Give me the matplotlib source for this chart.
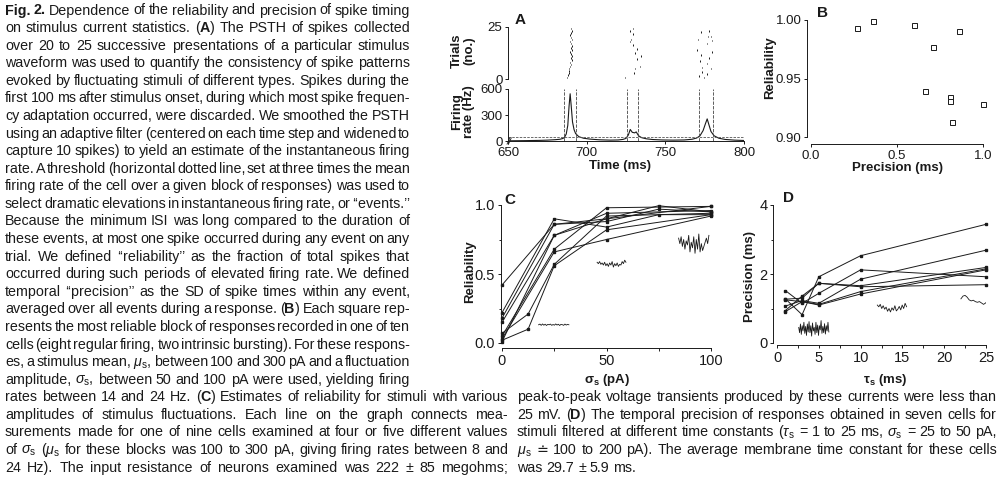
import matplotlib
matplotlib.use('Agg')
import matplotlib.pyplot as plt
import numpy as np

plt.rcParams['font.family'] = ['Liberation Sans', 'DejaVu Sans']
plt.rcParams['mathtext.fontset'] = 'custom'
plt.rcParams['mathtext.rm'] = 'Liberation Sans'
plt.rcParams['mathtext.it'] = 'Liberation Sans:italic'
plt.rcParams['mathtext.bf'] = 'Liberation Sans:bold'
plt.rcParams['axes.linewidth'] = 0.7

# ---------------- data ----------------
# Panel A: raster (spike time in ms, trial number)
raster_time = [687.4, 687.9, 688.6, 689.0, 688.7, 689.6, 690.1, 689.4, 690.6, 689.9, 690.8, 690.1,
               689.5, 690.5, 689.8, 690.9, 690.3, 689.6, 690.7, 690.0, 689.3, 690.3, 690.8, 689.9,
               724.6, 729.8, 733.8, 730.8, 732.2, 734.6, 730.5, 731.8, 729.5, 728.0, 727.3, 729.2,
               727.6, 729.7,
               770.3, 772.4, 773.5, 771.3, 774.5, 772.4, 777.8, 778.8, 779.9, 776.7, 779.4, 777.8,
               776.3, 778.8, 776.7, 773.5, 772.0, 777.3, 771.0]
raster_trial = [0.8, 2, 3, 4, 5, 6, 7, 8, 9, 10, 11, 12,
                13, 14, 15, 16, 17, 18, 19, 20, 21, 22, 23, 24.3,
                0.8, 3, 6, 5, 9.5, 11, 12.5, 14.5, 16.5, 19, 18, 21.5,
                23, 24.3,
                14, 11.5, 5.5, 1.5, 0.8, 22.5, 23, 20.5, 18.5, 17, 13, 10,
                7.5, 5, 2.5, 3.5, 8.5, 20.5, 19]
# Panel A: smoothed PSTH
psth_time = [650, 660, 670, 675, 680, 683, 685, 686, 687, 688, 688.8, 689.5, 690.2, 691, 692, 693,
             695, 698, 702, 708, 715, 720, 723, 725, 726.5, 727.7, 729, 730.5, 731.5, 733, 735,
             738, 742, 748, 755, 762, 767, 770, 772, 774, 775.5, 776.6, 777.5, 779, 781, 784,
             788, 794, 800]
psth_rate = [2, 4, 7, 10, 15, 20, 30, 45, 80, 180, 400, 545, 400, 220, 130, 85,
             50, 32, 22, 14, 10, 12, 18, 30, 70, 133, 100, 94, 105, 60, 38,
             25, 17, 12, 10, 12, 20, 35, 60, 120, 200, 255, 200, 110, 60, 32,
             18, 10, 6]
event_bounds = [685.3, 693.4, 725.8, 732.9, 771.5, 780.3]
threshold_rate = 47

# Panel B
b_precision = [0.27, 0.36, 0.60, 0.86, 0.71, 0.66, 0.81, 0.81, 1.00, 0.82]
b_reliability = [0.9932, 0.999, 0.9957, 0.991, 0.977, 0.939, 0.934, 0.931, 0.928, 0.913]

# Panel C: reliability vs sigma_s, one list per cell
c_sigma = [[0, 25, 50, 75, 100],
           [0, 25, 50, 75, 100],
           [0, 25, 50, 100],
           [0, 25, 50, 100],
           [0, 12.5, 25, 50, 100],
           [0, 12.5, 25, 50, 100],
           [0, 25, 50, 100],
           [0, 25, 50, 75, 100],
           [0, 25, 50, 100]]
c_reliability = [[0.42, 0.86, 0.88, 0.97, 0.95],
                 [0.22, 0.90, 0.84, 0.93, 0.93],
                 [0.18, 0.86, 0.90, 0.99],
                 [0.15, 0.78, 0.94, 0.96],
                 [0.07, 0.21, 0.57, 0.92, 0.94],
                 [0.02, 0.10, 0.56, 0.82, 0.93],
                 [0.05, 0.68, 0.98, 0.99],
                 [0.01, 0.78, 0.90, 0.995, 0.95],
                 [0.03, 0.66, 0.75, 0.92]]
# stimulus snippets drawn inside C (sigma range, trace values)
c_snip1_x = (17.5, 32.0)
c_snip1_y = [0.132, 0.137, 0.128, 0.138, 0.129, 0.136, 0.127, 0.135, 0.132, 0.137, 0.128, 0.134,
             0.129, 0.138, 0.130, 0.136, 0.127, 0.135, 0.133, 0.128, 0.137, 0.130, 0.135, 0.132]
c_snip2_x = (45.5, 59.3)
c_snip2_y = [0.585, 0.575, 0.59, 0.57, 0.58, 0.565, 0.585, 0.56, 0.575, 0.555, 0.58, 0.565,
             0.59, 0.55, 0.575, 0.56, 0.58, 0.555, 0.57, 0.565, 0.59, 0.575, 0.60, 0.585]
c_snip3_x = (84.5, 99.0)
c_snip3_y = [0.76, 0.72, 0.77, 0.70, 0.75, 0.68, 0.74, 0.71, 0.78, 0.66, 0.73, 0.69, 0.77,
             0.65, 0.75, 0.68, 0.79, 0.66, 0.72, 0.67, 0.70, 0.73, 0.76, 0.72, 0.78]

# Panel D: precision vs tau_s
d_tau = [1, 3, 5, 10, 25]
d_precision = [[1.28, 0.82, 1.92, 2.53, 3.44],
               [1.07, 1.23, 1.15, 1.85, 2.69],
               [0.94, 1.36, 1.73, 1.66, 2.19],
               [1.25, 1.20, 1.12, 1.49, 2.15],
               [1.52, 1.15, 1.44, 2.12, 1.92],
               [0.91, 1.20, 1.10, 1.42, 2.12],
               [1.27, 1.30, 1.73, 1.63, 1.69]]
d_snip1_x = (2.6, 6.2)
d_snip1_y = [0.45, 0.30, 0.55, 0.25, 0.50, 0.35, 0.60, 0.28, 0.48, 0.22, 0.55, 0.32, 0.62, 0.30,
             0.50, 0.20, 0.58, 0.35, 0.45, 0.25, 0.60, 0.30, 0.52, 0.22, 0.50, 0.38, 0.65, 0.28,
             0.48, 0.30, 0.56, 0.26, 0.50, 0.35, 0.60, 0.32]
d_snip2_x = (12.0, 15.5)
d_snip2_y = [1.10, 1.05, 1.12, 1.00, 1.08, 0.98, 1.04, 0.92, 1.00, 0.90, 1.02, 0.95, 1.08, 0.93,
             0.98, 1.06, 0.96, 1.10, 1.00, 1.15, 1.05]
d_snip3_x = (22.0, 25.2)
d_snip3_y = [1.28, 1.36, 1.38, 1.33, 1.25, 1.22, 1.24, 1.20, 1.18, 1.20, 1.16, 1.12, 1.16, 1.22]

# tick labels
a_raster_ticks = [0, 25]
a_rate_ticks = [0, 300, 600]
a_time_ticks = [650, 700, 750, 800]
b_x_ticks = [0.0, 0.5, 1.0]
b_x_labels = ['0.0', '0.5', '1.0']
b_y_ticks = [0.90, 0.95, 1.00]
b_y_labels = ['0.90', '0.95', '1.00']
c_x_ticks = [0, 50, 100]
c_y_ticks = [0.0, 0.5, 1.0]
c_y_labels = ['0.0', '0.5', '1.0']
d_x_ticks = [0, 5, 10, 15, 20, 25]
d_y_ticks = [0, 2, 4]

# caption text
MU = r"$\mu_\mathrm{s}$"
SIG = r"$\sigma_\mathrm{s}$"
TAU = r"$\tau_\mathrm{s}$"
left_lines = [
    "**Fig. 2.** Dependence of the reliability and precision of spike timing",
    "on stimulus current statistics. (**A**) The PSTH of spikes collected",
    "over 20 to 25 successive presentations of a particular stimulus",
    "waveform was used to quantify the consistency of spike patterns",
    "evoked by fluctuating stimuli of different types. Spikes during the",
    "first 100 ms after stimulus onset, during which most spike frequen-",
    "cy adaptation occurred, were discarded. We smoothed the PSTH",
    "using an adaptive filter (centered on each time step and widened to",
    "capture 10 spikes) to yield an estimate of the instantaneous firing",
    "rate. A threshold (horizontal dotted line, set at three times the mean",
    "firing rate of the cell over a given block of responses) was used to",
    "select dramatic elevations in instantaneous firing rate, or \u2018\u2018events.\u2019\u2019",
    "Because the minimum ISI was long compared to the duration of",
    "these events, at most one spike occurred during any event on any",
    "trial. We defined \u2018\u2018reliability\u2019\u2019 as the fraction of total spikes that",
    "occurred during such periods of elevated firing rate. We defined",
    "temporal \u2018\u2018precision\u2019\u2019 as the SD of spike times within any event,",
    "averaged over all events during a response. (**B**) Each square rep-",
    "resents the most reliable block of responses recorded in one of ten",
    "cells (eight regular firing, two intrinsic bursting). For these respons-",
    "es, a stimulus mean, " + MU + ", between 100 and 300 pA and a fluctuation",
    "amplitude, " + SIG + ", between 50 and 100 pA were used, yielding firing",
    "rates between 14 and 24 Hz. (**C**) Estimates of reliability for stimuli with various",
    "amplitudes of stimulus fluctuations. Each line on the graph connects mea-",
    "surements made for one of nine cells examined at four or five different values",
    "of " + SIG + " (" + MU + " for these blocks was 100 to 300 pA, giving firing rates between 8 and",
    "24 Hz). The input resistance of neurons examined was 222 \u00b1 85 megohms;",
]
right_lines = [
    "peak-to-peak voltage transients produced by these currents were less than",
    "25 mV. (**D**) The temporal precision of responses obtained in seven cells for",
    "stimuli filtered at different time constants (" + TAU + " = 1 to 25 ms, " + SIG + " = 25 to 50 pA,",
    MU + " \u2250 100 to 200 pA). The average membrane time constant for these cells",
    "was 29.7 \u00b1 5.9 ms.",
]

# ---------------- figure ----------------
W, H = 1000, 480
fig = plt.figure(figsize=(W / 100, H / 100), dpi=100)
INK = '#1a1a1a'
PX = 0.72  # points per pixel


def add_ax(l, t, r, b):
    return fig.add_axes([l / W, 1 - b / H, (r - l) / W, (b - t) / H])


def style(ax, size, left_out=0, bottom_out=0):
    for s in ('top', 'right'):
        ax.spines[s].set_visible(False)
    ax.spines['left'].set_position(('outward', left_out * PX))
    ax.spines['bottom'].set_position(('outward', bottom_out * PX))
    ax.tick_params(direction='out', length=2.5, width=0.7, pad=1.5, labelsize=size,
                   colors=INK)
    ax.tick_params(which='minor', direction='out', length=1.8, width=0.6)
    for s in ax.spines.values():
        s.set_color(INK)
    ax.patch.set_alpha(0)


def ftext(x, y, s, **kw):
    kw.setdefault('color', INK)
    return fig.text(x / W, 1 - y / H, s, **kw)

# ---- Panel A raster ----
axr = add_ax(508, 27, 744, 79)
style(axr, 9.5)
axr.spines['bottom'].set_visible(False)
axr.set_xticks([])
axr.set_xlim(650, 800)
axr.set_ylim(0, 25)
axr.set_yticks(a_raster_ticks)
rt = np.array(raster_trial)
axr.vlines(raster_time, rt - 0.4, rt + 0.4, color=INK, lw=0.7, clip_on=False)

# ---- Panel A firing rate ----
axf = add_ax(508, 89, 744, 141)
style(axf, 9.5)
axf.set_xlim(650, 800)
axf.set_ylim(0, 600)
axf.set_yticks(a_rate_ticks)
axf.set_xticks(a_time_ticks)
axf.plot(psth_time, psth_rate, color=INK, lw=0.8)
axf.axhline(threshold_rate, color='#555555', lw=0.6, ls=(0, (3, 1.5)))
axf.vlines(event_bounds, 0, 600, colors='#444444', lw=0.6, linestyles=(0, (4, 1.5)))
# axis break mark
for dx in (-0.006, 0.0):
    axf.plot([0.002 + dx, 0.014 + dx], [-0.06, 0.06], transform=axf.transAxes, color=INK,
             lw=0.6, clip_on=False)

ftext(520, 20, 'A', fontsize=11, fontweight='bold', ha='center', va='center')
ftext(463, 51, 'Trials\n(no.)', fontsize=9.5, fontweight='bold', rotation=90, ha='center',
      va='center', linespacing=1.0)
ftext(463, 112, 'Firing\nrate (Hz)', fontsize=9.5, fontweight='bold', rotation=90,
      ha='center', va='center', linespacing=1.0)
ftext(620, 166, 'Time (ms)', fontsize=9.5, fontweight='bold', ha='center', va='center')

# ---- Panel B ----
axb = add_ax(811, 20, 983, 137)
style(axb, 9.5, left_out=4, bottom_out=7)
axb.set_xlim(0, 1)
axb.set_ylim(0.90, 1.00)
axb.set_xticks(b_x_ticks, b_x_labels)
axb.set_yticks(b_y_ticks, b_y_labels)
axb.plot(b_precision, b_reliability, ls='none', marker='s', ms=3.6, mfc='white',
         mec=INK, mew=0.7, clip_on=False)
ftext(822, 13, 'B', fontsize=11, fontweight='bold', ha='center', va='center')
ftext(770, 68, 'Reliability', fontsize=9.5, fontweight='bold', rotation=90, ha='center',
      va='center')
ftext(898, 168, 'Precision (ms)', fontsize=9.5, fontweight='bold', ha='center', va='center')

# ---- Panel C ----
axc = add_ax(502, 205, 711, 343)
style(axc, 10.5, left_out=1.5, bottom_out=5)
axc.set_xlim(0, 100)
axc.set_ylim(0, 1)
axc.set_xticks(c_x_ticks)
axc.set_xticks([25, 75], minor=True)
axc.set_yticks(c_y_ticks, c_y_labels)
axc.set_yticks([0.25, 0.75], minor=True)
for xs, ys in zip(c_sigma, c_reliability):
    axc.plot(xs, ys, color=INK, lw=0.7, marker='s', ms=1.8, clip_on=False)
for (x0, x1), ys in ((c_snip1_x, c_snip1_y), (c_snip2_x, c_snip2_y), (c_snip3_x, c_snip3_y)):
    axc.plot(np.linspace(x0, x1, len(ys)), ys, color=INK, lw=0.6)
ftext(510, 200, 'C', fontsize=11, fontweight='bold', ha='center', va='center')
ftext(470, 272, 'Reliability', fontsize=9.5, fontweight='bold', rotation=90, ha='center',
      va='center')
ftext(607, 380, r'$\mathbf{\sigma_s}$ (pA)', fontsize=9.5, fontweight='bold', ha='center',
      va='center')

# ---- Panel D ----
axd = add_ax(777, 205, 986, 343)
style(axd, 10.5, left_out=4, bottom_out=2)
axd.set_xlim(0, 25)
axd.set_ylim(0, 4)
axd.set_xticks(d_x_ticks)
axd.set_xticks([2.5, 7.5, 12.5, 17.5, 22.5], minor=True)
axd.set_yticks(d_y_ticks)
axd.set_yticks([1, 3], minor=True)
for ys in d_precision:
    axd.plot(d_tau, ys, color=INK, lw=0.7, marker='s', ms=1.8, clip_on=False)
for (x0, x1), ys in ((d_snip1_x, d_snip1_y), (d_snip2_x, d_snip2_y), (d_snip3_x, d_snip3_y)):
    axd.plot(np.linspace(x0, x1, len(ys)), ys, color=INK, lw=0.6)
ftext(788, 198, 'D', fontsize=11, fontweight='bold', ha='center', va='center')
ftext(750, 276, 'Precision (ms)', fontsize=9.5, fontweight='bold', rotation=90, ha='center',
      va='center')
ftext(885, 380, r'$\mathbf{\tau_s}$ (ms)', fontsize=9.5, fontweight='bold', ha='center',
      va='center')

# ---------------- justified caption ----------------
LINE0 = 14.5
LSTEP = 17.58
BODY_PT = 11.0


def parse_line(line):
    words = [[]]
    for i, seg in enumerate(line.split('**')):
        bold = (i % 2 == 1)
        pieces = seg.split(' ')
        for j, p in enumerate(pieces):
            if j > 0:
                words.append([])
            if p:
                words[-1].append((p, bold))
    return [w for w in words if w]


items = []
for i, ln in enumerate(left_lines):
    xr = 410 if i < 22 else 508
    items.append((ln, i, 5, xr, True))
for k, ln in enumerate(right_lines):
    items.append((ln, 22 + k, 517, 997, k < len(right_lines) - 1))

renderer = fig.canvas.get_renderer()
created = []
for ln, idx, xl, xr, just in items:
    wobjs = []
    for w in parse_line(ln):
        robjs = []
        for txt, bold in w:
            t = fig.text(0, 0, txt, fontsize=BODY_PT, fontweight='bold' if bold else 'normal',
                         color=INK, va='baseline', ha='left')
            robjs.append(t)
        wobjs.append(robjs)
    created.append((wobjs, idx, xl, xr, just))


def widths(wobjs):
    return [[t.get_window_extent(renderer).width for t in robjs] for robjs in wobjs]


scale = 1.0
for wobjs, idx, xl, xr, just in created:
    if not just:
        continue
    tot = sum(sum(r) for r in widths(wobjs))
    sp = BODY_PT / 72 * 100 * 0.278 * 0.55
    s = (xr - xl) / (tot + sp * (len(wobjs) - 1))
    scale = min(scale, s)
fs = BODY_PT * scale
for wobjs, *_ in created:
    for robjs in wobjs:
        for t in robjs:
            t.set_fontsize(fs)

for wobjs, idx, xl, xr, just in created:
    wr = widths(wobjs)
    tot = sum(sum(r) for r in wr)
    n = len(wobjs)
    if just and n > 1:
        gap = (xr - xl - tot) / (n - 1)
    else:
        gap = fs / 72 * 100 * 0.278
    x = xl
    yb = LINE0 + idx * LSTEP
    for robjs, rw in zip(wobjs, wr):
        for t, w in zip(robjs, rw):
            t.set_position((x / W, 1 - yb / H))
            x += w
        x += gap

fig.savefig('out.png', dpi=100, facecolor='white')
